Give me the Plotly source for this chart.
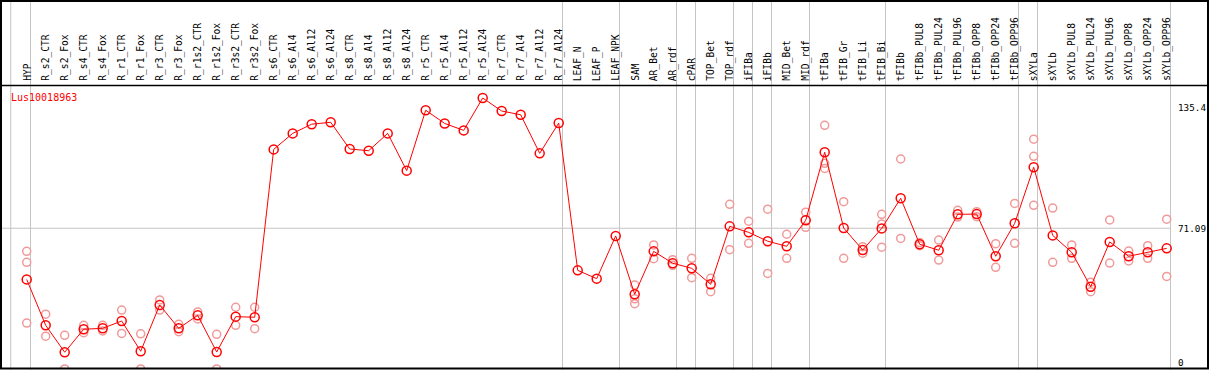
import plotly.graph_objects as go

categories = ["HYP", "R_s2_CTR", "R_s2_Fox", "R_s4_CTR", "R_s4_Fox", "R_r1_CTR", "R_r1_Fox",
              "R_r3_CTR", "R_r3_Fox", "R_r1s2_CTR", "R_r1s2_Fox", "R_r3s2_CTR", "R_r3s2_Fox",
              "R_s6_CTR", "R_s6_Al4", "R_s6_Al12", "R_s6_Al24", "R_s8_CTR", "R_s8_Al4", "R_s8_Al12",
              "R_s8_Al24", "R_r5_CTR", "R_r5_Al4", "R_r5_Al12", "R_r5_Al24", "R_r7_CTR", "R_r7_Al4",
              "R_r7_Al12", "R_r7_Al24", "LEAF_N", "LEAF_P", "LEAF_NPK", "SAM", "AR_Bet", "AR_rdf",
              "cPAR", "TOP_Bet", "TOP_rdf", "iFIBa", "iFIBb", "MID_Bet", "MID_rdf", "tFIBa",
              "tFIB_Gr", "tFIB_Li", "tFIB_Bi", "tFIBb", "tFIBb_PUL8", "tFIBb_PUL24", "tFIBb_PUL96",
              "tFIBb_OPP8", "tFIBb_OPP24", "tFIBb_OPP96", "sXYLa", "sXYLb", "sXYLb_PUL8",
              "sXYLb_PUL24", "sXYLb_PUL96", "sXYLb_OPP8", "sXYLb_OPP24", "sXYLb_OPP96"]

mean_values = [43.9, 19.5, 5.2, 17.4, 17.9, 21.8, 5.7, 30.3, 17.9, 24.8, 5.3, 24.1, 23.8,
               113.0, 121.5, 126.4, 127.4, 113.2, 112.3, 121.5, 101.7, 133.8, 126.8, 123.1, 140.3,
               133.4, 131.4, 110.9, 127.0, 48.7, 44.3, 67.0, 36.0, 58.8, 52.5, 49.8, 41.3, 72.1,
               68.9, 64.2, 61.5, 75.3, 111.5, 71.2, 59.5, 71.0, 87.0, 62.6, 59.4, 78.5, 78.6,
               56.2, 73.7, 103.5, 67.3, 58.3, 40.0, 63.8, 56.2, 58.3, 60.4]

N = None
rep_a = [58.8, 25.4, 14.2, 19.5, 19.5, 27.6, 15.0, 33.0, 20.0, 26.6, 14.7, 29.1, 29.1,
         N, N, N, N, N, N, N, N, N, N, N, N, N, N, N, N, N, N, N,
         40.9, 62.2, 54.4, 55.1, 44.5, 83.8, 74.8, 81.2, 67.9, 79.6, 125.8, 85.2, 61.3, 78.5,
         107.9, 63.5, 64.8, 80.6, 79.9, 62.9, 84.3, 118.4, 81.8, 62.2, 42.4, 75.5, 59.0, 61.8, 75.9]
rep_b = [53.0, 13.7, -3.7, 15.6, 16.5, 15.2, -3.7, 27.6, 16.1, 22.9, -3.7, 19.5, 17.7,
         N, N, N, N, N, N, N, N, N, N, N, N, N, N, N, N, N, N, N,
         33.6, 54.9, 51.4, 44.8, 37.4, 59.7, 63.1, 47.1, 55.1, 71.6, 105.6, 55.1, 57.8, 73.3,
         65.7, 61.8, 54.2, 77.0, 77.2, 50.3, 63.1, 109.3, 53.0, 55.1, 37.4, 52.6, 53.7, 55.1, 45.5]
rep_c = [20.7, N, N, N, N, N, N, N, N, N, N, N, N,
         N, N, N, N, N, N, N, N, N, N, N, N, N, N, N, N, N, N, N,
         31.0, N, N, N, N, N, N, N, N, N, 102.9, N, N, 61.0,
         N, N, N, N, N, N, N, 83.3, N, N, N, N, N, N, N]

group_ends = [-1.04, 0, 28, 31, 34, 35, 37, 38, 39, 41, 45, 52, 53, 60]
y_ticks = [0, 71.09, 135.4]
y_tick_labels = ["0", "71.09", "135.4"]
gene_name = "Lus10018963"

W, H = 1209, 370
x_idx = list(range(len(categories)))

rx, ry = [], []
for reps in (rep_a, rep_b, rep_c):
    for i, v in enumerate(reps):
        if v is not None:
            rx.append(i)
            ry.append(v)

fig = go.Figure()
fig.add_trace(go.Scatter(
    x=rx, y=ry, mode="markers", cliponaxis=True,
    marker=dict(symbol="circle-open", size=8, color="#f09a9a", line=dict(width=1.5, color="#f09a9a")),
    hoverinfo="skip", showlegend=False))
fig.add_trace(go.Scatter(
    x=x_idx, y=mean_values, mode="lines+markers", cliponaxis=True,
    line=dict(color="#ff0000", width=1),
    marker=dict(symbol="circle-open", size=9, color="#ff0000", line=dict(width=1.5, color="#ff0000")),
    showlegend=False))

x0_px, px_step = 26.7, 19.0
xmin = (1 - x0_px) / px_step
xmax = (1208 - x0_px) / px_step
py_per = 1.8815
zero_px = 362.0
ymin = (zero_px - 368) / py_per
ymax = (zero_px - 86) / py_per

shapes = []
grid_col = "#c4c4c4"
for g in group_ends:
    shapes.append(dict(type="line", xref="x", yref="paper", x0=g + 0.2, x1=g + 0.2,
                       y0=0, y1=1, line=dict(color=grid_col, width=1), layer="below"))
# horizontal grid at middle tick
shapes.append(dict(type="line", xref="paper", yref="y", x0=1 / W, x1=1170.7 / W,
                   y0=y_ticks[1], y1=y_ticks[1], line=dict(color=grid_col, width=1), layer="below"))
# header separator
shapes.append(dict(type="line", xref="paper", yref="paper", x0=0, x1=1,
                   y0=1 - 85.5 / H, y1=1 - 85.5 / H, line=dict(color="black", width=1.5)))
# outer frame
shapes.append(dict(type="rect", xref="paper", yref="paper", x0=1 / W, x1=1208 / W,
                   y0=1.5 / H, y1=1 - 1 / H, line=dict(color="black", width=2)))

annotations = []
mono = "DejaVu Sans Mono"
for i, c in enumerate(categories):
    annotations.append(dict(x=i, xref="x", y=1 - 83 / H, yref="paper", text=c, textangle=-90,
                            showarrow=False, xanchor="center", yanchor="bottom",
                            font=dict(family=mono, size=9.6, color="black")))
annotations.append(dict(x=9 / W, xref="paper", y=1 - 97 / H, yref="paper", text=gene_name,
                        showarrow=False, xanchor="left", yanchor="middle",
                        font=dict(family=mono, size=10, color="#ff0000")))
for v, t in zip(y_ticks, y_tick_labels):
    annotations.append(dict(x=1176 / W, xref="paper", y=v, yref="y", text=t,
                            showarrow=False, xanchor="left", yanchor="middle",
                            font=dict(family=mono, size=9.3, color="black")))

fig.update_layout(
    width=W, height=H,
    margin=dict(l=0, r=0, t=0, b=0),
    paper_bgcolor="white", plot_bgcolor="white",
    xaxis=dict(domain=[1 / W, 1208 / W], range=[xmin, xmax], visible=False, fixedrange=True),
    yaxis=dict(domain=[2 / H, 1 - 86 / H], range=[ymin, ymax], visible=False, fixedrange=True),
    shapes=shapes, annotations=annotations,
)

fig.write_html("out.html", config={"displayModeBar": False},
               post_script="document.body.style.margin='0';document.body.style.overflow='hidden';")
